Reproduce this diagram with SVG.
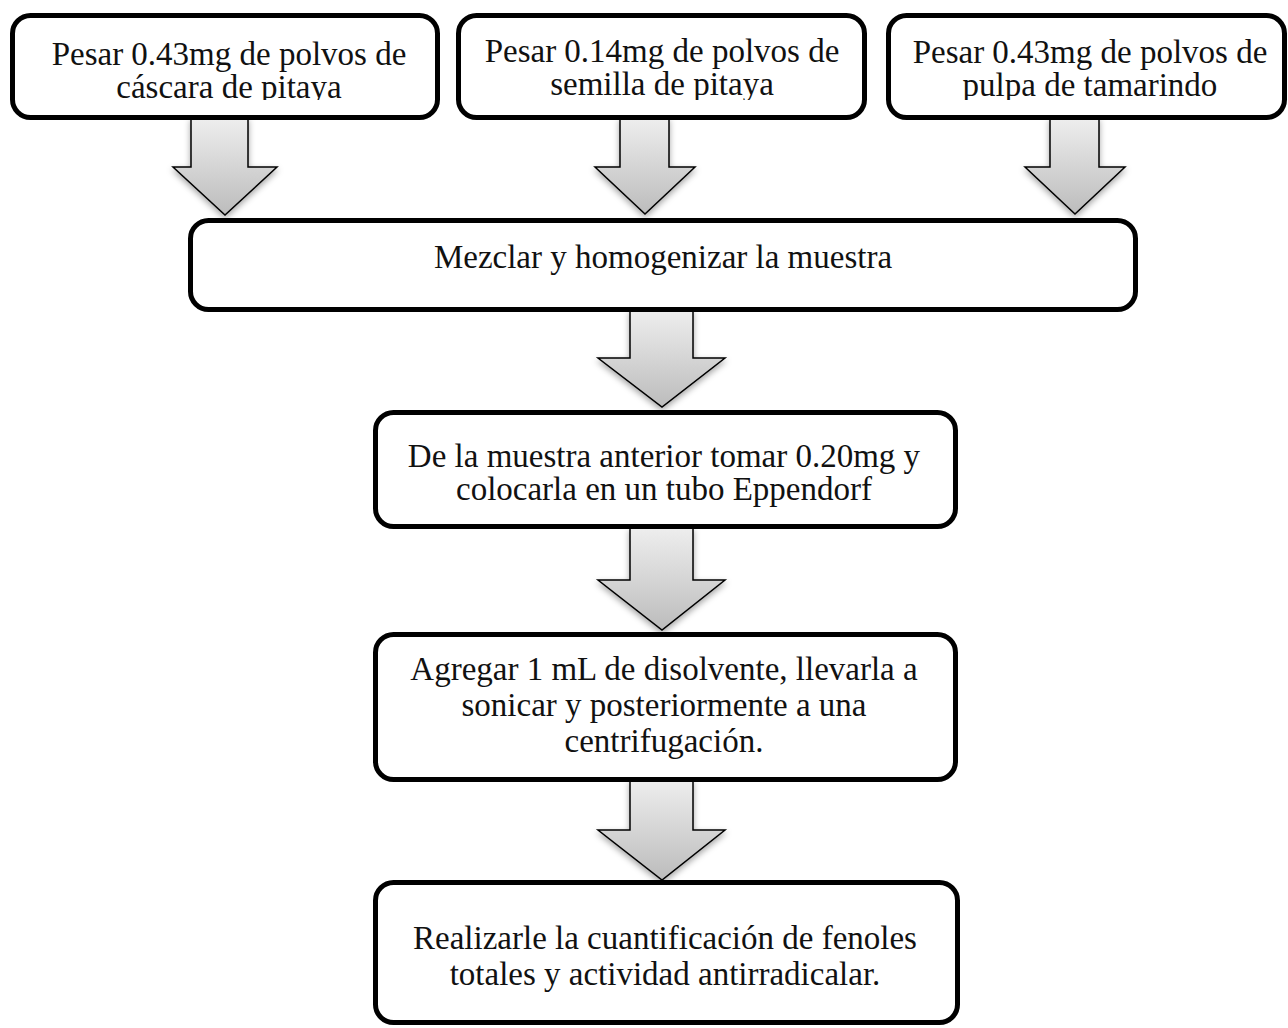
<svg xmlns="http://www.w3.org/2000/svg" width="1288" height="1028" viewBox="0 0 1288 1028">
  <style>
    .box { fill: #ffffff; stroke: #000000; stroke-width: 5; }
    .lbl { font-family: "Liberation Serif", "Times New Roman", serif; font-size: 33px; fill: #111111; text-anchor: middle; }
    .arrow { fill: url(#arrowFill); stroke: #000000; stroke-width: 1.5; stroke-linejoin: miter; filter: url(#arrowShadow); }
  </style>
  <defs>
    <linearGradient id="arrowFill" x1="0" y1="0" x2="0" y2="1">
      <stop offset="0" stop-color="#eeeeee"/>
      <stop offset="1" stop-color="#bcbcbc"/>
    </linearGradient>
    <filter id="arrowShadow" x="-30%" y="-30%" width="160%" height="160%">
      <feDropShadow dx="0" dy="3" stdDeviation="3" flood-color="#000000" flood-opacity="0.35"/>
    </filter>
    <!-- the top row text is cut off along the lower edge of the page frame -->
    <clipPath id="topRowClip">
      <rect x="0" y="0" width="1288" height="100"/>
    </clipPath>
  </defs>

  <!-- block arrows between steps -->
  <g id="connectors">
    <polygon class="arrow" points="191,118 248,118 248,167 277,167 225,215 173,167 191,167"/>
    <polygon class="arrow" points="620,118 669,118 669,167 695,167 645,214 595,167 620,167"/>
    <polygon class="arrow" points="1050,118 1099,118 1099,167 1125,167 1075,214 1025,167 1050,167"/>
    <polygon class="arrow" points="630,310 693,310 693,358 725,358 662,407 598,358 630,358"/>
    <polygon class="arrow" points="630,528 693,528 693,580 725,580 662,630 598,580 630,580"/>
    <polygon class="arrow" points="630,780 693,780 693,830 725,830 662,880 598,830 630,830"/>
  </g>

  <g id="step-cascara">
    <rect class="box" x="12.5" y="15.5" width="425" height="102" rx="18"/>
    <g clip-path="url(#topRowClip)">
      <text class="lbl" x="229" y="65">Pesar 0.43mg de polvos de</text>
      <text class="lbl" x="229" y="98">cáscara de pitaya</text>
    </g>
  </g>

  <g id="step-semilla">
    <rect class="box" x="458.5" y="15.5" width="406" height="102" rx="18"/>
    <g clip-path="url(#topRowClip)">
      <text class="lbl" x="662" y="62">Pesar 0.14mg de polvos de</text>
      <text class="lbl" x="662" y="95">semilla de pitaya</text>
    </g>
  </g>

  <g id="step-tamarindo">
    <rect class="box" x="888.5" y="15.5" width="396" height="102" rx="18"/>
    <g clip-path="url(#topRowClip)">
      <text class="lbl" x="1090" y="63">Pesar 0.43mg de polvos de</text>
      <text class="lbl" x="1090" y="96">pulpa de tamarindo</text>
    </g>
  </g>

  <g id="step-mezclar">
    <rect class="box" x="190.5" y="220.5" width="945" height="89" rx="18"/>
    <text class="lbl" x="663" y="268">Mezclar y homogenizar la muestra</text>
  </g>

  <g id="step-tomar">
    <rect class="box" x="375.5" y="412.5" width="580" height="114" rx="18"/>
    <text class="lbl" x="664" y="467">De la muestra anterior tomar 0.20mg y</text>
    <text class="lbl" x="664" y="500">colocarla en un tubo Eppendorf</text>
  </g>

  <g id="step-disolvente">
    <rect class="box" x="375.5" y="634.5" width="580" height="145" rx="18"/>
    <text class="lbl" x="664" y="680">Agregar 1 mL de disolvente, llevarla a</text>
    <text class="lbl" x="664" y="716">sonicar y posteriormente a una</text>
    <text class="lbl" x="664" y="752">centrifugación.</text>
  </g>

  <g id="step-cuantificacion">
    <rect class="box" x="375.5" y="882.5" width="582" height="140" rx="18"/>
    <text class="lbl" x="665" y="949">Realizarle la cuantificación de fenoles</text>
    <text class="lbl" x="665" y="985">totales y actividad antirradicalar.</text>
  </g>
</svg>
